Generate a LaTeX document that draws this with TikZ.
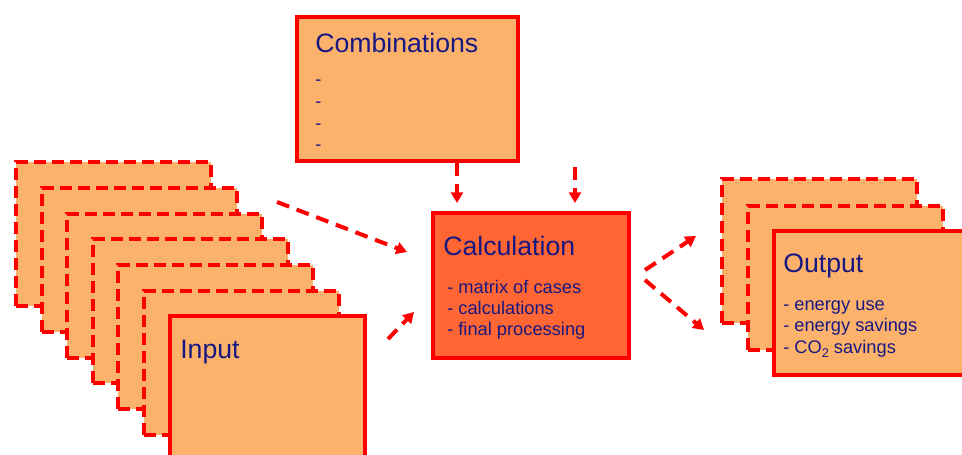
\documentclass[tikz,border=0pt]{standalone}
\usepackage{fontspec}
\setmainfont{Liberation Sans}
\usetikzlibrary{arrows.meta, calc, positioning}
\definecolor{cardfill}{RGB}{253,178,107}
\definecolor{calcfill}{RGB}{255,102,51}
\definecolor{inktext}{RGB}{24,24,130}
\tikzstyle{card}=[draw=red, fill=cardfill, line width=3pt, inner sep=0pt,
  minimum width=146.25pt, minimum height=108pt, anchor=north west]
\tikzstyle{backcard}=[card, dash pattern=on 9pt off 4.5pt]
\tikzstyle{title}=[text=inktext, inner sep=0pt, anchor=base west,
  font=\fontsize{20}{24}\selectfont]
\tikzstyle{item}=[title, font=\fontsize{13.7}{16}\selectfont]
\tikzstyle{flow}=[draw=red, line width=3pt, dash pattern=on 9.75pt off 6pt,
  -{Triangle[length=8pt, width=9pt]}]
\newcommand{\lowtwo}{\raisebox{-0.5ex}{\fontsize{9.5}{10}\selectfont 2}}

\begin{document}
\begin{tikzpicture}[x=0.75pt, y=-0.75pt]
  \useasboundingbox (0,0) rectangle (962,454);

  % input stack
  \foreach \i in {0,...,5}
    \node[backcard] (in\i) at ({14+25.6*\i},{160+25.8*\i}) {};
  \node[card] (input) at (168,314) {};
  \node[title] (input-t) at ($(input.north west)+(12,44)$) {Input};

  % combinations
  \node[card, minimum width=165.75pt] (comb) at (295,15) {};
  \node[title] (comb-t) at ($(comb.north west)+(20,37)$) {Combinations};
  \foreach \k in {1,...,4}
    \node[item] (comb-\k) at ($(comb.north west)+(20,{49+21.7*\k})$) {-};

  % calculation
  \node[card, fill=calcfill, minimum width=147pt, minimum height=108.75pt] (calc) at (431,211) {};
  \node[title] (calc-t) at ($(calc.north west)+(12,44)$) {Calculation};
  \foreach \t [count=\k] in {matrix of cases, calculations, final processing}
    \node[item] (calc-\k) at ($(calc.north west)+(16,{61+21*\k})$) {- \t};

  % output stack
  \node[backcard] (out0) at (720,177) {};
  \node[backcard] (out1) [below right=20.25pt and 19.5pt of out0.north west] {};
  \node[card] (output) [below right=18.75pt and 19.5pt of out1.north west] {};
  \node[title] (output-t) at ($(output.north west)+(11,43)$) {Output};
  \foreach \t [count=\k] in {energy use, energy savings, CO\lowtwo{} savings}
    \node[item] (output-\k) at ($(output.north west)+(11,{59.5+21.5*\k})$) {- \t};

  % free ends of the flows
  \coordinate (comb-out) at ($(comb.south west)+(162,0)$);
  \coordinate (calc-in1) at ($(calc.north west)+(26,-8)$);
  \coordinate (free-top) at ($(calc.north west)+(144,-44)$);
  \coordinate (calc-in2) at ($(calc.north west)+(144,-8)$);
  \coordinate (in-out1) at (277,202);
  \coordinate (calc-in3) at ($(calc.north west)+(-24,41)$);
  \coordinate (in-out2) at (388,339);
  \coordinate (calc-in4) at ($(calc.north west)+(-17,101)$);
  \coordinate (calc-out1) at ($(calc.north east)+(14,59)$);
  \coordinate (calc-out2) at ($(calc.north east)+(14,69)$);
  \coordinate (out-in1) at ($(out0.north west)+(-24,59)$);
  \coordinate (out-in2) at ($(out0.north west)+(-16,153)$);

  \draw[flow] (comb-out) -- (calc-in1);
  \draw[flow] (free-top) -- (calc-in2);
  \draw[flow] (in-out1) -- (calc-in3);
  \draw[flow] (in-out2) -- (calc-in4);
  \draw[flow] (calc-out1) -- (out-in1);
  \draw[flow] (calc-out2) -- (out-in2);
\end{tikzpicture}
\end{document}
